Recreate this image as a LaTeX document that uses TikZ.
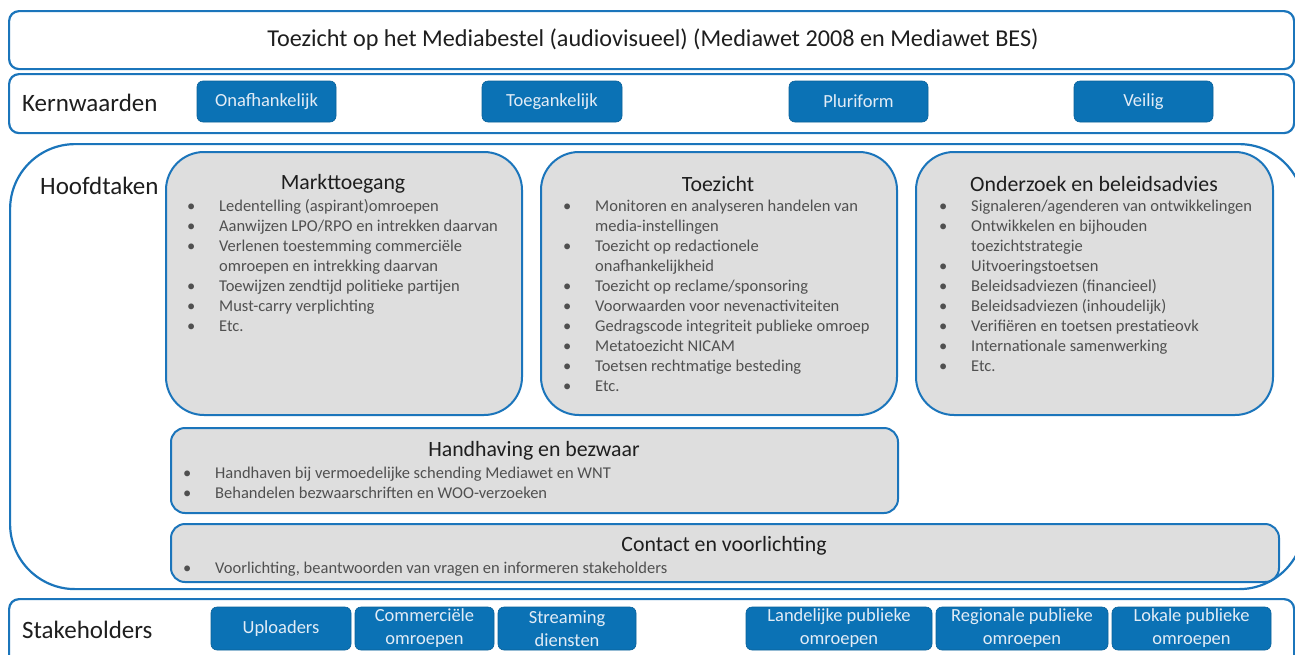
\documentclass[tikz,border=0pt]{standalone}
\usepackage{fontspec}
\setmainfont{Carlito}
\definecolor{ablue}{HTML}{1B75BB}
\definecolor{bblue}{HTML}{0B72B5}
\definecolor{btext}{HTML}{E2ECF6}
\definecolor{agray}{HTML}{DEDEDE}
\definecolor{ttext}{HTML}{1E1E1E}
\definecolor{ltext}{HTML}{505050}
\newcommand\blist[1]{{\fontsize{16.5}{20}\selectfont\color{ltext}\begin{tabular}{@{}p{32pt}@{}l@{}}#1\end{tabular}}}
\begin{document}
\begin{tikzpicture}[x=1pt,y=-1pt,
  frame/.style={draw=ablue, line width=2.2pt, rounded corners=10pt, fill=white, inner sep=0pt, anchor=north west},
  bigframe/.style={draw=ablue, line width=2.2pt, rounded corners=65pt, fill=white, inner sep=0pt, anchor=north west},
  task/.style={draw=ablue, line width=2pt, fill=agray, rounded corners=38pt, inner sep=0pt, anchor=north west},
  band/.style={draw=ablue, line width=2pt, fill=agray, rounded corners=14pt, inner sep=0pt, anchor=north west},
  btn/.style={fill=bblue, draw=bblue!85!black, line width=0.6pt, rounded corners=6pt, text=btext, font=\fontsize{18.5}{23}\selectfont, align=center, inner sep=0pt},
  lbl/.style={font=\fontsize{25}{29}\selectfont, text=ttext, inner sep=0pt, anchor=west},
  ttl/.style={font=\fontsize{21.8}{26}\selectfont, text=ttext, inner sep=0pt},
  lst/.style={inner sep=0pt, anchor=north west}]
\useasboundingbox (0,0) rectangle (1295,654);
\clip (0,0) rectangle (1295,654);

% top title
\node[frame, minimum width=1285pt, minimum height=58pt] (topbox) at (8,10) {};
\node[font=\fontsize{24.2}{28}\selectfont, text=ttext] (title) at (653,40) {Toezicht op het Mediabestel (audiovisueel) (Mediawet 2008 en Mediawet BES)};

% kernwaarden
\node[frame, minimum width=1285pt, minimum height=59pt] (kwbox) at (8,73) {};
\node[lbl] (kw) at (22,103) {Kernwaarden};
\node[btn, minimum width=139pt, minimum height=41pt] (k1) at (266.5,101.5) {Onafhankelijk};
\node[btn, minimum width=140pt, minimum height=41pt] (k2) at (552,101.5) {Toegankelijk};
\node[btn, minimum width=139pt, minimum height=41pt] (k3) at (858.5,101.5) {Pluriform};
\node[btn, minimum width=139pt, minimum height=41pt] (k4) at (1143.5,101.5) {Veilig};

% hoofdtaken
\node[bigframe, minimum width=1294pt, minimum height=445pt] (htbox) at (9,143) {};
\node[lbl] (ht) at (40,186) {Hoofdtaken};

\node[task, minimum width=356pt, minimum height=263pt] (mt) at (165,151) {};
\node[ttl] (mtt) at (343,184) {Markttoegang};
\node[lst] (mtl) at (187,197) {\blist{%
\textbullet & Ledentelling (aspirant)omroepen\\
\textbullet & Aanwijzen LPO/RPO en intrekken daarvan\\
\textbullet & Verlenen toestemming commerciële\\
 & omroepen en intrekking daarvan\\
\textbullet & Toewijzen zendtijd politieke partijen\\
\textbullet & Must-carry verplichting\\
\textbullet & Etc.}};

\node[task, minimum width=356pt, minimum height=263pt] (tz) at (540,151) {};
\node[ttl] (tzt) at (718,184) {Toezicht};
\node[lst] (tzl) at (563,197) {\blist{%
\textbullet & Monitoren en analyseren handelen van\\
 & media-instellingen\\
\textbullet & Toezicht op redactionele\\
 & onafhankelijkheid\\
\textbullet & Toezicht op reclame/sponsoring\\
\textbullet & Voorwaarden voor nevenactiviteiten\\
\textbullet & Gedragscode integriteit publieke omroep\\
\textbullet & Metatoezicht NICAM\\
\textbullet & Toetsen rechtmatige besteding\\
\textbullet & Etc.}};

\node[task, minimum width=357pt, minimum height=263pt] (ob) at (915,151) {};
\node[ttl] (obt) at (1094,184) {Onderzoek en beleidsadvies};
\node[lst] (obl) at (939,197) {\blist{%
\textbullet & Signaleren/agenderen van ontwikkelingen\\
\textbullet & Ontwikkelen en bijhouden\\
 & toezichtstrategie\\
\textbullet & Uitvoeringstoetsen\\
\textbullet & Beleidsadviezen (financieel)\\
\textbullet & Beleidsadviezen (inhoudelijk)\\
\textbullet & Verifiëren en toetsen prestatieovk\\
\textbullet & Internationale samenwerking\\
\textbullet & Etc.}};

\node[band, minimum width=727pt, minimum height=85pt] (hb) at (170,427) {};
\node[ttl] (hbt) at (534,451) {Handhaving en bezwaar};
\node[lst] (hbl) at (183,464) {\blist{%
\textbullet & Handhaven bij vermoedelijke schending Mediawet en WNT\\
\textbullet & Behandelen bezwaarschriften en WOO-verzoeken}};

\node[band, minimum width=1108pt, minimum height=58pt] (cv) at (170,523) {};
\node[ttl] (cvt) at (724,546) {Contact en voorlichting};
\node[lst] (cvl) at (183,559) {\blist{%
\textbullet & Voorlichting, beantwoorden van vragen en informeren stakeholders}};

% stakeholders
\node[frame, minimum width=1285pt, minimum height=70pt] (shbox) at (8,598) {};
\node[lbl] (sh) at (22,630) {Stakeholders};
\node[btn, minimum width=140pt, minimum height=43pt] (s1) at (281,628.5) {Uploaders};
\node[btn, minimum width=139pt, minimum height=43pt] (s2) at (424.5,628.5) {Commerciële\\omroepen};
\node[btn, minimum width=138pt, minimum height=43pt] (s3) at (567,628.5) {Streaming\\diensten};
\node[btn, minimum width=186pt, minimum height=43pt] (s4) at (839,628.5) {Landelijke publieke\\omroepen};
\node[btn, minimum width=172pt, minimum height=43pt] (s5) at (1022,628.5) {Regionale publieke\\omroepen};
\node[btn, minimum width=159pt, minimum height=43pt] (s6) at (1191.5,628.5) {Lokale publieke\\omroepen};
\end{tikzpicture}
\end{document}
